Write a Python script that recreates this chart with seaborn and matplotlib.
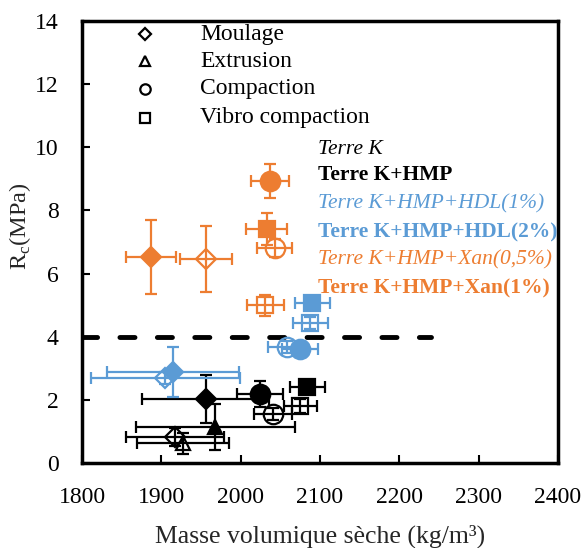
import numpy as np
import matplotlib
matplotlib.use("Agg")
import matplotlib.pyplot as plt
import seaborn as sns

# ---- data: order of methods = Moulage, Extrusion, Compaction, Vibro compaction
methods = ["Moulage", "Extrusion", "Compaction", "Vibro compaction"]
series_names = ["Terre K", "Terre K+HMP", "Terre K+HMP+HDL(1%)",
                "Terre K+HMP+HDL(2%)", "Terre K+HMP+Xan(0,5%)", "Terre K+HMP+Xan(1%)"]

nan = np.nan
# Terre K (open black)
k_x = [1917, 1927, 2041, 2075]
k_y = [0.82, 0.63, 1.55, 1.80]
k_xe = [62, 58, 24, 21]
k_ye = [0.28, 0.33, 0.20, 0.22]
# Terre K+HMP (filled black)
hmp_x = [1956, 1968, 2024, 2084]
hmp_y = [2.03, 1.14, 2.19, 2.41]
hmp_xe = [80, 100, 29, 22]
hmp_ye = [0.76, 0.74, 0.42, 0.20]
# HDL 1% (open blue)
hdl1_x = [1905, nan, 2058, 2088]
hdl1_y = [2.69, nan, 3.67, 4.43]
hdl1_xe = [94, nan, 23, 22]
hdl1_ye = [0.20, nan, 0.20, 0.20]
# HDL 2% (filled blue)
hdl2_x = [1915, nan, 2075, 2090]
hdl2_y = [2.88, nan, 3.61, 5.07]
hdl2_xe = [83, nan, 23, 22]
hdl2_ye = [0.80, nan, 0.20, 0.20]
# Xan 0.5% (open orange)
xan05_x = [1956, nan, 2043, 2031]
xan05_y = [6.46, nan, 6.81, 5.00]
xan05_xe = [33, nan, 22, 23]
xan05_ye = [1.05, nan, 0.30, 0.33]
# Xan 1% (filled orange)
xan1_x = [1887, nan, 2037, 2033]
xan1_y = [6.52, nan, 8.93, 7.41]
xan1_xe = [32, nan, 24, 26]
xan1_ye = [1.17, nan, 0.54, 0.50]

threshold_y = 4
threshold_x = [1800, 2240]

x_ticks = [1800, 1900, 2000, 2100, 2200, 2300, 2400]
y_ticks = [0, 2, 4, 6, 8, 10, 12, 14]

black = "#000000"
blue = "#5B9BD5"
orange = "#ED7D31"

series = [
    (k_x, k_y, k_xe, k_ye, black, False),
    (hmp_x, hmp_y, hmp_xe, hmp_ye, black, True),
    (hdl1_x, hdl1_y, hdl1_xe, hdl1_ye, blue, False),
    (hdl2_x, hdl2_y, hdl2_xe, hdl2_ye, blue, True),
    (xan05_x, xan05_y, xan05_xe, xan05_ye, orange, False),
    (xan1_x, xan1_y, xan1_xe, xan1_ye, orange, True),
]
label_styles = [("italic", "normal", black), ("normal", "bold", black),
                ("italic", "normal", blue), ("normal", "bold", blue),
                ("italic", "normal", orange), ("normal", "bold", orange)]

sns.set_style("ticks")
plt.rcParams["font.family"] = ["Liberation Serif", "DejaVu Serif"]
plt.rcParams["mathtext.fontset"] = "custom"
plt.rcParams["mathtext.rm"] = "Liberation Serif"

fig = plt.figure(figsize=(5.88, 5.48), dpi=100)
ax = fig.add_axes([0.1395, 0.155, 0.8095, 0.8067])

mk = ["D", "^", "o", "s"]
msz = [10.5, 9.5, 14.0, 11.5]

# threshold dashed line
ax.plot(threshold_x, [threshold_y, threshold_y], color="black", lw=3.5,
        dashes=(3.1, 4.6), dash_capstyle="round", zorder=1)

z = 2
for (xs, ys, xes, yes, col, filled) in series:
    for i in range(4):
        if np.isnan(xs[i]):
            continue
        ax.errorbar([xs[i]], [ys[i]], xerr=[xes[i]], yerr=[yes[i]], fmt="none",
                    ecolor=col, elinewidth=1.6, capsize=4, capthick=1.6, zorder=z)
        ax.plot([xs[i]], [ys[i]], marker=mk[i], ms=msz[i], linestyle="none",
                markerfacecolor=col if filled else "none",
                markeredgecolor=col, markeredgewidth=1.6, zorder=z + 0.5)
    z += 1

# marker legend
leg_y = [13.58, 12.73, 11.85, 10.93]
leg_ms = [6, 6.5, 7.5, 7]
for i, m in enumerate(methods):
    ax.plot([1879], [leg_y[i]], marker=mk[i], ms=leg_ms[i], markerfacecolor="none",
            markeredgecolor="black", markeredgewidth=1.6, linestyle="none")
    ax.text(1949, leg_y[i], m, fontsize=17, va="center", ha="left", color="black")

lab_y = [9.93, 9.11, 8.22, 7.30, 6.42, 5.53]
for i, name in enumerate(series_names):
    st, wt, col = label_styles[i]
    ax.text(2097, lab_y[i], name, fontsize=15.5, style=st, weight=wt, color=col,
            va="center", ha="left")

ax.set_xlim(1800, 2400)
ax.set_ylim(0, 14)
ax.set_xticks(x_ticks)
ax.set_yticks(y_ticks)
ax.tick_params(direction="in", length=6, width=1.5, labelsize=17, pad=17, colors="black")
for s in ax.spines.values():
    s.set_linewidth(2.5)
    s.set_color("black")
ax.set_xlabel("Masse volumique sèche (kg/m³)", fontsize=18.5, labelpad=12)
ax.set_ylabel("R$_\\mathregular{c}$(MPa)", fontsize=17.5)
ax.yaxis.set_label_coords(-0.102, 0.535)

fig.savefig("out.png", dpi=100)
